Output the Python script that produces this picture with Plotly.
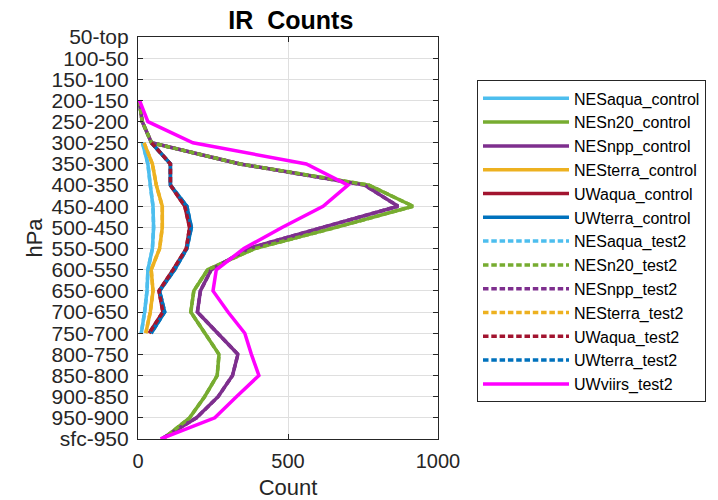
import plotly.graph_objects as go

# Pressure layers, top of the atmosphere first
levels = ["50-top", "100-50", "150-100", "200-150", "250-200", "300-250",
          "350-300", "400-350", "450-400", "500-450", "550-500", "600-550",
          "650-600", "700-650", "750-700", "800-750", "850-800", "900-850",
          "950-900", "sfc-950"]

N = None
# IR counts per layer (None = no retrievals in that layer)
nes_aqua_control = [N, N, N, N, N, 15, 33, 41, 50, 52, 48, 33, 30, 22, 11, N, N, N, N, N]
nes_n20_control = [N, N, N, 4, 14, 45, 340, 770, 917, 660, 389, 232, 186, 176, 222, 270, 264, 222, 172, 83]
nes_npp_control = [N, N, N, 4, 14, 45, 340, 755, 867, 615, 367, 244, 208, 198, 267, 333, 315, 267, 195, 78]
nes_terra_control = [N, N, N, N, N, 20, 48, 61, 81, 81, 72, 44, 50, 41, 26, N, N, N, N, N]
uw_aqua_control = [N, N, N, N, N, 45, 108, 108, 156, 172, 161, 117, 70, 83, 37, N, N, N, N, N]
uw_terra_control = [N, N, N, N, N, 45, 108, 108, 163, 178, 163, 122, 72, 89, 44, N, N, N, N, N]

nes_aqua_test2 = [N, N, N, N, N, 15, 33, 41, 50, 52, 48, 33, 30, 22, 11, N, N, N, N, N]
nes_n20_test2 = [N, N, N, 4, 14, 45, 340, 770, 917, 660, 389, 232, 186, 176, 222, 270, 264, 222, 172, 83]
nes_npp_test2 = [N, N, N, 4, 14, 45, 340, 755, 867, 615, 367, 244, 208, 198, 267, 333, 315, 267, 195, 78]
nes_terra_test2 = [N, N, N, N, N, 20, 48, 61, 81, 81, 72, 44, 50, 41, 26, N, N, N, N, N]
uw_aqua_test2 = [N, N, N, N, N, 45, 108, 108, 156, 172, 161, 117, 70, 83, 37, N, N, N, N, N]
uw_terra_test2 = [N, N, N, N, N, 45, 108, 108, 163, 178, 163, 122, 72, 89, 44, N, N, N, N, N]
uw_viirs_test2 = [N, N, N, 5, 33, 183, 561, 700, 617, 480, 353, 261, 250, 300, 356, 378, 403, 328, 256, 75]

C_LBLUE = "#4DBEEE"
C_GREEN = "#77AC30"
C_PURPLE = "#7E2F8E"
C_ORANGE = "#EDB120"
C_RED = "#A2142F"
C_BLUE = "#0072BD"
C_MAGENTA = "#FF00FF"

DOT = "5.5px,2.8px"
LW = 3.5

# (name, values, colour, dash, legend position); listed in drawing order
series = [
    ("NESaqua_control", nes_aqua_control, C_LBLUE, "solid", 1),
    ("NESn20_control", nes_n20_control, C_GREEN, "solid", 2),
    ("NESnpp_control", nes_npp_control, C_PURPLE, "solid", 3),
    ("NESterra_control", nes_terra_control, C_ORANGE, "solid", 4),
    ("UWaqua_control", uw_aqua_control, C_RED, "solid", 5),
    ("UWterra_control", uw_terra_control, C_BLUE, "solid", 6),
    ("NESaqua_test2", nes_aqua_test2, C_LBLUE, DOT, 7),
    ("NESterra_test2", nes_terra_test2, C_ORANGE, DOT, 10),
    ("UWterra_test2", uw_terra_test2, C_BLUE, DOT, 12),
    ("NESnpp_test2", nes_npp_test2, C_PURPLE, DOT, 9),
    ("NESn20_test2", nes_n20_test2, C_GREEN, DOT, 8),
    ("UWaqua_test2", uw_aqua_test2, C_RED, DOT, 11),
    ("UWviirs_test2", uw_viirs_test2, C_MAGENTA, "solid", 13),
]

FONT = "Liberation Sans, Arial, Helvetica, sans-serif"
INK = "#262626"

fig = go.Figure()
for name, vals, color, dash, rank in series:
    fig.add_trace(go.Scatter(
        x=vals, y=levels, mode="lines", name=name,
        line=dict(color=color, width=LW, dash=dash),
        legendrank=rank * 10,
    ))

fig.update_layout(
    width=718, height=500,
    margin=dict(l=138, r=280, t=37, b=61, autoexpand=False),
    paper_bgcolor="white", plot_bgcolor="white",
    font=dict(family=FONT, color=INK, size=20),
    title=dict(text="<b>IR\u00a0 Counts</b>", x=(138 + 438) / 2 / 718 + 0.004, xanchor="center",
               y=1 - 20 / 500, yanchor="middle",
               font=dict(family=FONT, size=25, color="black")),
    showlegend=True,
    legend=dict(x=1.13, xanchor="left", y=0.892, yanchor="top",
                bgcolor="white", bordercolor=INK, borderwidth=1,
                font=dict(family=FONT, size=16, color="black"),
                itemwidth=86, tracegroupgap=0, entrywidth=158),
)

fig.update_xaxes(
    range=[0, 1000], tickvals=[0, 500, 1000], ticktext=["0", "500", "1000"],
    showgrid=True, gridcolor="#DFDFDF", gridwidth=1, zeroline=False,
    showline=True, linecolor=INK, linewidth=1.2, mirror="ticks",
    ticks="inside", ticklen=5, tickcolor=INK, tickfont=dict(size=20),
    ticklabelstandoff=4, automargin=False,
    title=dict(text="Count", font=dict(size=22), standoff=12),
)
fig.update_yaxes(
    type="category", categoryorder="array", categoryarray=levels,
    range=[19, 0], tickvals=levels,
    showgrid=True, gridcolor="#DFDFDF", gridwidth=1, zeroline=False,
    showline=True, linecolor=INK, linewidth=1.2, mirror="ticks",
    ticks="inside", ticklen=5, tickcolor=INK, tickfont=dict(size=21),
    ticklabelstandoff=4, automargin=False,
    title=dict(text="hPa", font=dict(size=22), standoff=2),
)

fig.write_html("out.html")
